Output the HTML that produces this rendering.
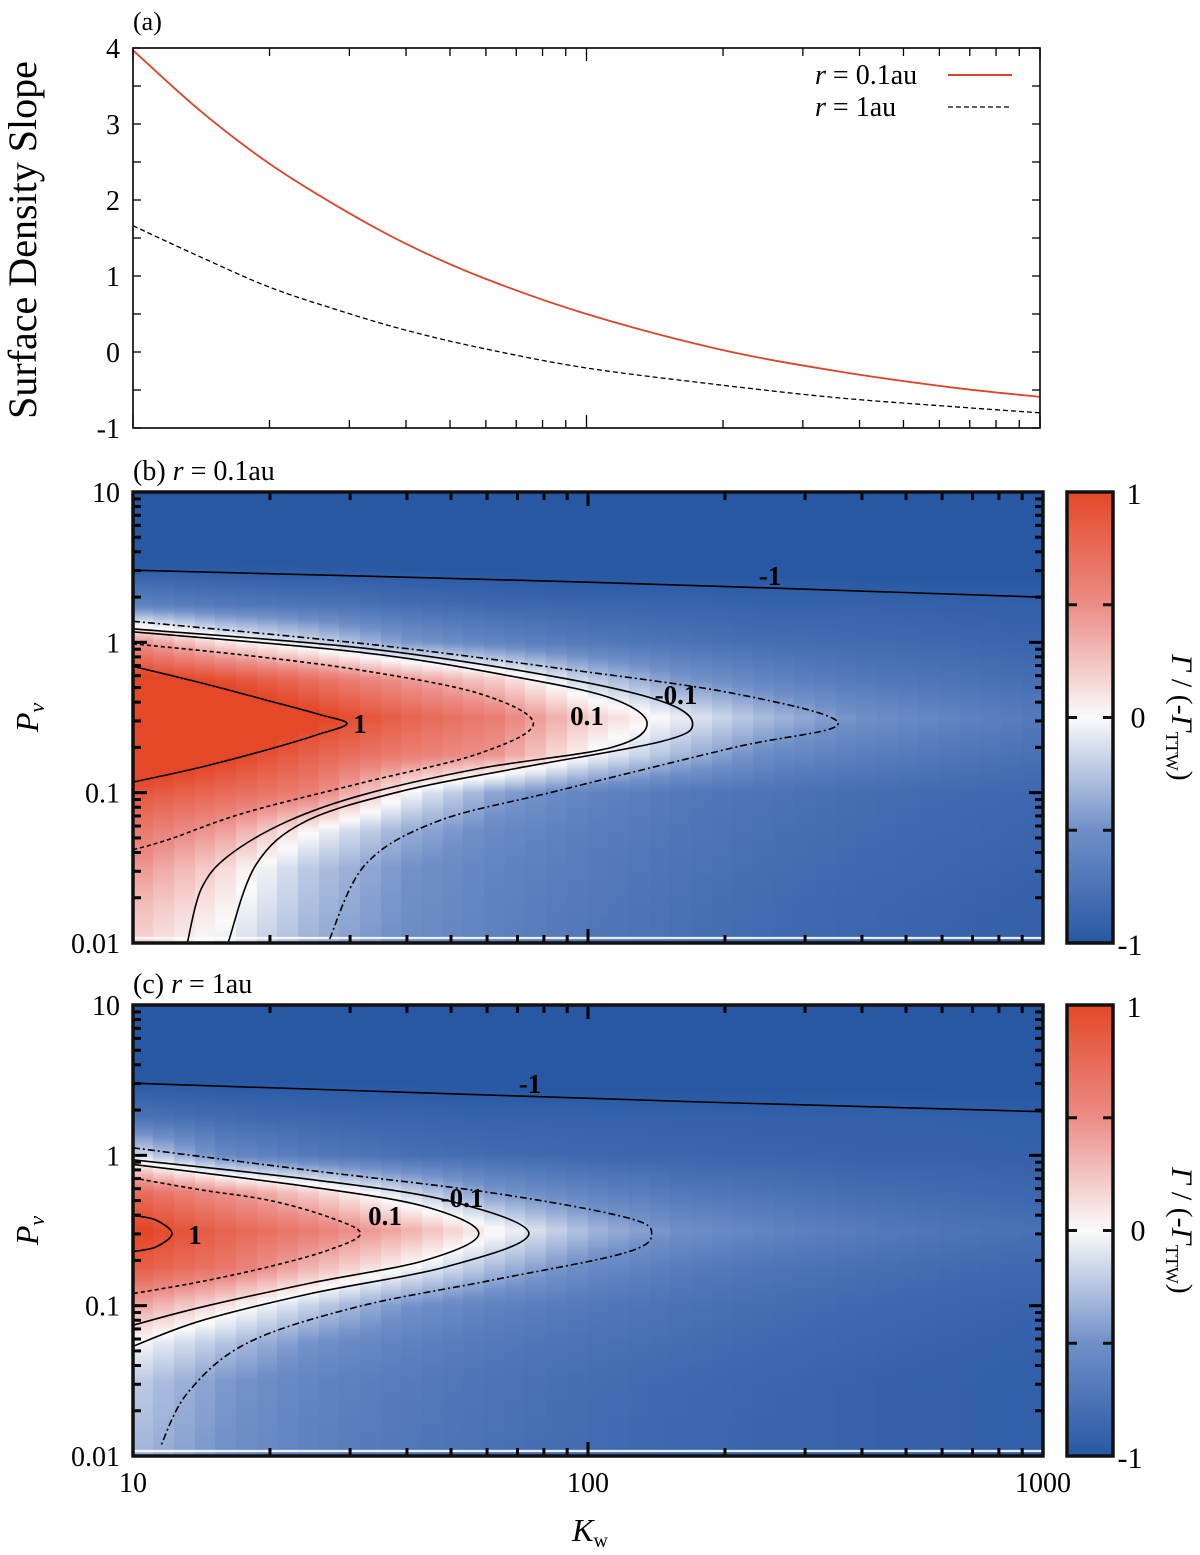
<!DOCTYPE html>
<html><head><meta charset="utf-8">
<style>
html,body{margin:0;padding:0;background:#fff;}
#wrap{position:relative;width:1200px;height:1555px;overflow:hidden;font-family:"Liberation Serif",serif;}
canvas{position:absolute;}
svg{position:absolute;left:0;top:0;}
</style></head>
<body>
<div id="wrap">
<canvas id="hb"></canvas>
<canvas id="hc"></canvas>
<svg id="svg" width="1200" height="1555" xmlns="http://www.w3.org/2000/svg"></svg>
</div>
<script>
// ---------- data ----------
const aLogK = [1.0,1.149,1.298,1.447,1.60,1.77,2.0,2.29,2.55,2.81,3.0];
const aRed  = [3.97,3.17,2.49,1.93,1.43,0.98,0.50,0.04,-0.25,-0.47,-0.59];
const aBlack= [1.66,1.25,0.86,0.56,0.29,0.05,-0.21,-0.43,-0.60,-0.72,-0.80];
const aYTicks = [4,3,2,1,0,-1];

const hLogK = [1.0,1.2,1.4,1.6,1.8,2.0,2.2,2.4,2.6,2.8,3.0];
const hLogP = [1.0,0.75,0.5,0.25,0,-0.25,-0.5,-0.75,-1,-1.25,-1.5,-1.75,-2];
const fieldB = [
 [-1.05,-1.05,-1.05,-1.05,-1.05,-1.05,-1.05,-1.05,-1.05,-1.05,-1.05],
 [-1.05,-1.05,-1.05,-1.05,-1.05,-1.05,-1.05,-1.05,-1.05,-1.05,-1.05],
 [-0.98,-0.98,-0.99,-1,-1.02,-1.03,-1.03,-1.03,-1.03,-1.03,-1.03],
 [-0.6,-0.7,-0.75,-0.8,-0.85,-0.87,-0.88,-0.9,-0.9,-0.92,-0.93],
 [0.5,0.1,-0.15,-0.45,-0.6,-0.7,-0.75,-0.8,-0.82,-0.85,-0.88],
 [1.1,0.95,0.7,0.45,0.2,-0.2,-0.45,-0.6,-0.7,-0.75,-0.8],
 [1.5,1.3,1.05,0.8,0.6,0.2,-0.05,-0.3,-0.5,-0.6,-0.7],
 [1.3,1.05,0.8,0.6,0.45,0.0,-0.3,-0.55,-0.65,-0.72,-0.78],
 [0.9,0.75,0.58,0.0,-0.4,-0.6,-0.7,-0.75,-0.8,-0.83,-0.85],
 [0.65,0.42,0.0,-0.35,-0.55,-0.65,-0.72,-0.78,-0.82,-0.85,-0.88],
 [0.48,0.15,-0.25,-0.48,-0.6,-0.68,-0.75,-0.8,-0.84,-0.87,-0.9],
 [0.3,0.05,-0.3,-0.5,-0.62,-0.7,-0.77,-0.82,-0.86,-0.89,-0.92],
 [0.2,-0.05,-0.35,-0.52,-0.63,-0.72,-0.78,-0.83,-0.87,-0.9,-0.92]
];
const fieldC = [
 [-1.05,-1.05,-1.05,-1.05,-1.05,-1.05,-1.05,-1.05,-1.05,-1.05,-1.05],
 [-1.05,-1.05,-1.05,-1.05,-1.05,-1.05,-1.05,-1.05,-1.05,-1.05,-1.05],
 [-1.0,-1.0,-1.0,-1.01,-1.02,-1.03,-1.03,-1.03,-1.03,-1.03,-1.03],
 [-0.75,-0.82,-0.86,-0.88,-0.9,-0.9,-0.91,-0.92,-0.92,-0.93,-0.94],
 [-0.1,-0.55,-0.7,-0.78,-0.82,-0.85,-0.87,-0.88,-0.9,-0.9,-0.92],
 [0.75,0.48,0.2,-0.15,-0.45,-0.6,-0.7,-0.75,-0.8,-0.83,-0.86],
 [1.05,0.8,0.6,0.35,0.02,-0.3,-0.5,-0.6,-0.68,-0.74,-0.78],
 [0.85,0.65,0.3,0.0,-0.3,-0.55,-0.67,-0.74,-0.78,-0.82,-0.85],
 [0.4,0.1,-0.2,-0.48,-0.62,-0.7,-0.76,-0.8,-0.84,-0.87,-0.9],
 [0.0,-0.25,-0.5,-0.62,-0.7,-0.76,-0.8,-0.84,-0.87,-0.9,-0.92],
 [-0.2,-0.45,-0.6,-0.68,-0.75,-0.8,-0.84,-0.87,-0.9,-0.92,-0.94],
 [-0.25,-0.47,-0.62,-0.7,-0.76,-0.81,-0.85,-0.88,-0.9,-0.92,-0.94],
 [-0.3,-0.5,-0.63,-0.72,-0.78,-0.82,-0.86,-0.88,-0.9,-0.92,-0.94]
];
const cB_p1  = [[1.00,-0.16],[1.15,-0.27],[1.30,-0.39],[1.41,-0.48],[1.47,-0.54],[1.41,-0.61],[1.30,-0.71],[1.15,-0.83],[1.00,-0.93]];
const cB_p05 = [[1.00,-0.01],[1.26,-0.09],[1.51,-0.19],[1.76,-0.34],[1.88,-0.54],[1.76,-0.74],[1.51,-0.93],[1.25,-1.13],[1.08,-1.31],[1.00,-1.38]];
const cB_p01 = [[1.00,0.07],[1.51,-0.07],[1.84,-0.23],[2.05,-0.37],[2.13,-0.54],[2.05,-0.70],[1.76,-0.84],[1.51,-1.01],[1.34,-1.19],[1.21,-1.42],[1.15,-1.64],[1.12,-1.99]];
const cB_m01 = [[1.00,0.09],[1.51,-0.04],[1.93,-0.23],[2.16,-0.39],[2.23,-0.54],[2.16,-0.66],[1.84,-0.84],[1.59,-0.99],[1.38,-1.19],[1.27,-1.48],[1.21,-1.99]];
const cB_m05 = [[1.00,0.14],[1.51,-0.01],[1.93,-0.17],[2.32,-0.34],[2.55,-0.54],[2.32,-0.70],[1.93,-0.99],[1.67,-1.19],[1.51,-1.48],[1.43,-1.99]];
const cB_m1  = [[1.00,0.48],[2.00,0.40],[3.00,0.30]];
const cC_p1  = [[1.00,-0.40],[1.05,-0.43],[1.086,-0.52],[1.05,-0.61],[1.00,-0.64]];
const cC_p05 = [[1.00,-0.15],[1.15,-0.23],[1.30,-0.30],[1.43,-0.41],[1.50,-0.52],[1.43,-0.63],[1.30,-0.74],[1.15,-0.84],[1.00,-0.92]];
const cC_p01 = [[1.00,-0.06],[1.39,-0.21],[1.64,-0.34],[1.76,-0.52],[1.64,-0.70],[1.39,-0.85],[1.15,-1.01],[1.00,-1.13]];
const cC_m01 = [[1.00,-0.03],[1.39,-0.16],[1.69,-0.30],[1.87,-0.52],[1.69,-0.74],[1.39,-0.92],[1.15,-1.10],[1.00,-1.27]];
const cC_m05 = [[1.00,0.05],[1.39,-0.10],[1.79,-0.25],[2.08,-0.41],[2.14,-0.52],[2.08,-0.65],[1.79,-0.83],[1.49,-1.01],[1.25,-1.25],[1.12,-1.58],[1.06,-1.94]];
const cC_m1  = [[1.00,0.48],[2.25,0.355],[3.00,0.29]];

// ---------- helpers ----------
const NS='http://www.w3.org/2000/svg';
const svg=document.getElementById('svg');
function el(tag,attrs,parent){const e=document.createElementNS(NS,tag);for(const k in attrs)e.setAttribute(k,attrs[k]);(parent||svg).appendChild(e);return e;}
function txt(s,x,y,size,anchor,parent,extra){const t=el('text',Object.assign({x:x,y:y,'font-size':size,'text-anchor':anchor||'middle','font-family':'Liberation Serif, serif',fill:'#000'},extra||{}),parent);t.textContent=s;return t;}
function cmap(v){
  const st=[[-1,[40,88,164]],[-0.5,[112,143,200]],[0,[250,250,250]],[0.5,[236,140,134]],[1,[228,72,40]]];
  v=Math.max(-1,Math.min(1,v));
  for(let i=0;i<st.length-1;i++){if(v<=st[i+1][0]){const t=(v-st[i][0])/(st[i+1][0]-st[i][0]);const a=st[i][1],b=st[i+1][1];return 'rgb('+Math.round(a[0]+(b[0]-a[0])*t)+','+Math.round(a[1]+(b[1]-a[1])*t)+','+Math.round(a[2]+(b[2]-a[2])*t)+')';}}
  return 'rgb(228,72,40)';
}
function smoothPath(pts){
  let d='M'+pts[0][0].toFixed(1)+','+pts[0][1].toFixed(1);
  for(let i=0;i<pts.length-1;i++){
    const p0=pts[i-1]||pts[i],p1=pts[i],p2=pts[i+1],p3=pts[i+2]||p2;
    const c1=[p1[0]+(p2[0]-p0[0])/6,p1[1]+(p2[1]-p0[1])/6];
    const c2=[p2[0]-(p3[0]-p1[0])/6,p2[1]-(p3[1]-p1[1])/6];
    d+=' C'+c1[0].toFixed(1)+','+c1[1].toFixed(1)+' '+c2[0].toFixed(1)+','+c2[1].toFixed(1)+' '+p2[0].toFixed(1)+','+p2[1].toFixed(1);
  }
  return d;
}
function logTicksX(g,x0,x1,yTop,yBot,maj,minr,w){
  for(let dec=1;dec<=3;dec++){for(let m=1;m<=9;m++){const lk=dec+Math.log10(m);if(lk>3.0001)continue;
    const x=x0+(lk-1)/2*(x1-x0);const L=(m===1)?maj:minr;
    const t1=el('line',{x1:x,x2:x,y1:yTop,y2:yTop+L,stroke:'#000','stroke-width':w},g);
    
    const t2=el('line',{x1:x,x2:x,y1:yBot,y2:yBot-L,stroke:'#000','stroke-width':w},g);
    }}
}

// ---------- panel a ----------
(function(){
  const x0=133,x1=1040,y0=48,y1=428;
  const X=lk=>x0+(lk-1)/2*(x1-x0);
  const Y=v=>y0+(4-v)/5*(y1-y0);
  const g=el('g',{});
  txt('(a)',133,30,26,'start',g);
  logTicksX(g,x0,x1,y0,y1,13,8,1.3);
  for(let v=-1;v<=4;v+=0.5){const y=Y(v);
    el('line',{x1:x0,x2:x0+8,y1:y,y2:y,stroke:'#000','stroke-width':1.3,},g);
    el('line',{x1:x1,x2:x1-8,y1:y,y2:y,stroke:'#000','stroke-width':1.3,},g);}
  aYTicks.forEach(v=>{const t=txt(String(v),120,Y(v)+10,28,'end',g);});
  const ylab=txt('Surface Density Slope',0,0,40,'middle',g,{transform:'translate(36,240) rotate(-90)'});
  
  const pr=el('path',{d:smoothPath(aLogK.map((k,i)=>[X(k),Y(aRed[i])])),fill:'none',stroke:'#d8462a','stroke-width':1.8},g);
  
  const pb=el('path',{d:smoothPath(aLogK.map((k,i)=>[X(k),Y(aBlack[i])])),fill:'none',stroke:'#000','stroke-width':1.3,'stroke-dasharray':'5,3'},g);
  
  el('rect',{x:x0,y:y0,width:x1-x0,height:y1-y0,fill:'none',stroke:'#000','stroke-width':1.6,},g);
  const lg=el('g',{},g);
  const t1=txt('',815,84,28,'start',lg);t1.innerHTML='<tspan font-style="italic">r</tspan> = 0.1au';
  el('line',{x1:948,x2:1012,y1:75,y2:75,stroke:'#d8462a','stroke-width':2,},lg);
  const t2=txt('',815,116,28,'start',lg);t2.innerHTML='<tspan font-style="italic">r</tspan> = 1au';
  el('line',{x1:948,x2:1010,y1:107,y2:107,stroke:'#000','stroke-width':1.3,'stroke-dasharray':'5,3',},lg);
})();

// ---------- heatmap panels ----------
function bilinear(field,lk,lp){
  let ci=(lk-hLogK[0])/(hLogK[1]-hLogK[0]);ci=Math.max(0,Math.min(hLogK.length-1.0001,ci));
  let ri=(hLogP[0]-lp)/(hLogP[0]-hLogP[1]);ri=Math.max(0,Math.min(hLogP.length-1.0001,ri));
  const c=Math.floor(ci),r=Math.floor(ri),fc=ci-c,fr=ri-r;
  const a=field[r][c],b=field[r][c+1],d=field[r+1][c],e=field[r+1][c+1];
  return (a*(1-fc)+b*fc)*(1-fr)+(d*(1-fc)+e*fc)*fr;
}
function heatPanel(id,cid,y0,y1,field,contours,labels,title){
  const x0=133,x1=1043;
  const X=lk=>x0+(lk-1)/2*(x1-x0);
  const Y=lp=>y0+(1-lp)/3*(y1-y0);
  const cv=document.getElementById(cid);
  cv.width=x1-x0;cv.height=y1-y0;cv.style.left=x0+'px';cv.style.top=y0+'px';
  const ctx=cv.getContext('2d');
  const ncol=44,W=x1-x0,H=y1-y0;
  for(let j=0;j<H;j+=2){const lp=1-(j+1)/H*3;
    for(let i=0;i<ncol;i++){const lk=1+(i+0.5)/ncol*2;
      ctx.fillStyle=cmap(bilinear(field,lk,lp));
      const xa=Math.floor(i*W/ncol),xb=Math.floor((i+1)*W/ncol);
      ctx.fillRect(xa,j,xb-xa,2);}}
  ctx.fillStyle='#fff';ctx.fillRect(0,H-6,W,2);
  const g=el('g',{});
  const tt=txt('',133,y0-12,28,'start',g);tt.innerHTML=title;
  contours.forEach(c=>{
    const p=el('path',{d:smoothPath(c.pts.map(q=>[X(q[0]),Y(q[1])])),fill:'none',stroke:'#000','stroke-width':1.6},g);
    if(c.dash)p.setAttribute('stroke-dasharray',c.dash);
    
    
  });
  labels.forEach(l=>{const t=txt(l.s,l.x,l.y,27,'middle',g,{'font-weight':'bold'});});
  logTicksX(g,x0,x1,y0,y1,14,8,3);
  for(let dec=-2;dec<=0;dec++){for(let m=1;m<=9;m++){const lp=dec+Math.log10(m);const y=Y(lp);const L=(m===1)?14:8;
    if(m===1&&dec===-2)continue;
    const a=el('line',{x1:x0,x2:x0+L,y1:y,y2:y,stroke:'#000','stroke-width':3},g);
    const b=el('line',{x1:x1,x2:x1-L,y1:y,y2:y,stroke:'#000','stroke-width':3},g);}}
  [['10',1],['1',0],['0.1',-1],['0.01',-2]].forEach(q=>{const t=txt(q[0],120,Y(q[1])+10,28,'end',g);});
  el('rect',{x:x0,y:y0,width:x1-x0,height:y1-y0,fill:'none',stroke:'#111','stroke-width':3.5,},g);
  const pl=txt('',30,(y0+y1)/2+8,32,'middle',g,{transform:'rotate(-90 30 '+((y0+y1)/2)+')'});
  pl.innerHTML='<tspan font-style="italic">P</tspan><tspan font-style="italic" font-size="22" dy="6">ν</tspan>';
  
  const cx0=1067,cx1=1113;
  const gradId='grad'+id;
  const defs=el('defs',{},g);
  const lgd=el('linearGradient',{id:gradId,x1:0,y1:1,x2:0,y2:0},defs);
  for(let s=0;s<=20;s++){const v=-1+s/10;el('stop',{offset:(s/20),'stop-color':cmap(v)},lgd);}
  const cbg=el('g',{},g);
  el('rect',{x:cx0,y:y0,width:cx1-cx0,height:y1-y0,fill:'url(#'+gradId+')',stroke:'#111','stroke-width':3.5},cbg);
  [-0.5,0,0.5].forEach(v=>{const y=y0+(1-v)/2*(y1-y0);
    el('line',{x1:cx0,x2:cx0+10,y1:y,y2:y,stroke:'#111','stroke-width':3},cbg);
    el('line',{x1:cx1,x2:cx1-10,y1:y,y2:y,stroke:'#111','stroke-width':3},cbg);});
  txt('1',1134,y0+12,30,'middle',cbg);
  txt('0',1138,(y0+y1)/2+10,30,'middle',cbg);
  txt('-1',1130,y1+12,30,'middle',cbg);
  const cy=(y0+y1)/2;
  const cl=txt('',1172,cy,30,'middle',cbg,{transform:'rotate(90 1172 '+cy+')'});
  cl.innerHTML='<tspan font-style="italic">Γ</tspan> / (-<tspan font-style="italic">Γ</tspan><tspan font-size="18" dy="6">TTW</tspan><tspan dy="-6">)</tspan>';
  
}
heatPanel('panel-b','hb',492,943,fieldB,[
  {name:'1',pts:cB_p1},{name:'0.5',pts:cB_p05,dash:'4,3'},{name:'0.1',pts:cB_p01},
  {name:'-0.1',pts:cB_m01},{name:'-0.5',pts:cB_m05,dash:'7,3,2,3'},{name:'-1',pts:cB_m1}],
  [{s:'1',x:360,y:733},{s:'0.1',x:587,y:725},{s:'-0.1',x:676,y:704},{s:'-1',x:770,y:585}],
  '(b) <tspan font-style="italic">r</tspan> = 0.1au');
heatPanel('panel-c','hc',1005,1456,fieldC,[
  {name:'1',pts:cC_p1},{name:'0.5',pts:cC_p05,dash:'4,3'},{name:'0.1',pts:cC_p01},
  {name:'-0.1',pts:cC_m01},{name:'-0.5',pts:cC_m05,dash:'7,3,2,3'},{name:'-1',pts:cC_m1}],
  [{s:'1',x:195,y:1244},{s:'0.1',x:385,y:1225},{s:'-0.1',x:462,y:1207},{s:'-1',x:530,y:1093}],
  '(c) <tspan font-style="italic">r</tspan> = 1au');
[['10',133],['100',588],['1000',1043]].forEach(q=>{const t=txt(q[0],q[1],1492,28,'middle');});
const xl=txt('',590,1541,32,'middle');xl.innerHTML='<tspan font-style="italic">K</tspan><tspan font-size="20" dy="6">w</tspan>';

</script>
</body></html>
